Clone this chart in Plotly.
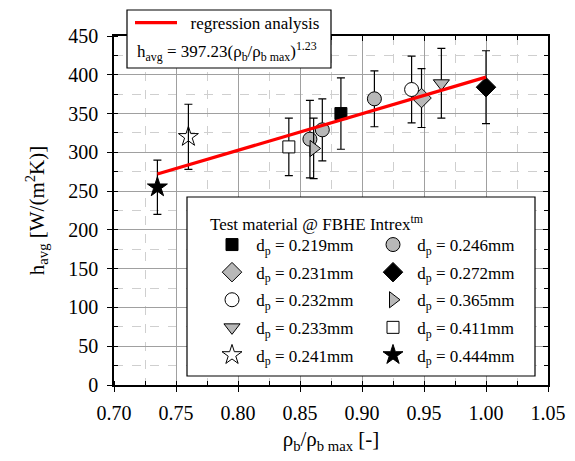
import plotly.graph_objects as go

# ---------------- data ----------------
labels = ["0.219", "0.231", "0.232", "0.233", "0.241",
          "0.246", "0.272", "0.365", "0.411", "0.444"]
xs = [[0.883], [0.948], [0.940], [0.964], [0.760],
      [0.858, 0.868, 0.910], [1.000], [0.861], [0.841], [0.735]]
ys = [[350], [370], [381], [389], [320],
      [317, 329, 369], [384], [305], [307], [255]]
errs = [[46], [38], [43], [45], [42],
        [50, 40, 36], [47], [39], [37], [35]]
reg_x = [0.735, 1.000]
reg_y = [272, 397]
x_ticks = [0.70, 0.75, 0.80, 0.85, 0.90, 0.95, 1.00, 1.05]
y_ticks = [0, 50, 100, 150, 200, 250, 300, 350, 400, 450]

# ---------------- styles ----------------
GRAY = "#b8b8b8"
symbols = ["square", "diamond", "circle", "triangle-down", "star-open",
           "circle", "diamond", "triangle-right", "square", "star"]
fills = ["black", GRAY, "white", GRAY, "black",
         GRAY, "black", GRAY, "white", "black"]
sizes = [12, 15, 14, 14, 15, 14, 15, 14, 12, 15]
FONT = "Liberation Serif, Times New Roman, serif"
NB = "\u00a0"

# page body has an 8px margin; figure is sized to fit the 575x461 window
OFF = 8
W, H = 567, 453
L, R, T, B = 106, 27, 28, 76
PW, PH = W - L - R, H - T - B


def px(xw):
    return (xw - OFF - L) / PW


def py(yw):
    return (H - B - (yw - OFF)) / PH


fig = go.Figure()

for i, lab in enumerate(labels):
    fig.add_trace(go.Scatter(
        x=xs[i], y=ys[i], mode="markers",
        name=f"{NB}d<sub>p</sub> = {lab}mm",
        legend="legend2" if i < 5 else "legend3",
        legendgroup=f"g{i}",
        marker=dict(symbol=symbols[i], color=fills[i], size=sizes[i],
                    line=dict(color="black", width=1)),
        error_y=dict(type="data", array=errs[i], visible=True,
                     color="black", thickness=1.2, width=4),
    ))

fig.add_trace(go.Scatter(
    x=reg_x, y=reg_y, mode="lines", name=f"{NB}{NB}regression analysis",
    line=dict(color="red", width=3.2), legend="legend", showlegend=True,
))

# empty helper trace for mirrored inside-tick axes
fig.add_trace(go.Scatter(x=[], y=[], xaxis="x2", yaxis="y2", showlegend=False,
                         hoverinfo="skip"))

axis_common = dict(showline=True, linecolor="black", linewidth=1.5,
                   tickfont=dict(family=FONT, size=20, color="black"),
                   zeroline=False)

fig.update_layout(
    width=W, height=H,
    margin=dict(l=L, r=R, t=T, b=B, autoexpand=False),
    paper_bgcolor="white", plot_bgcolor="white",
    font=dict(family=FONT, color="black"),
    showlegend=True,
    xaxis=dict(range=[0.70, 1.05], tickvals=x_ticks, tickformat=".2f",
               ticks="outside", ticklen=5, tickcolor="black", mirror=True,
               ticklabelstandoff=4,
               showgrid=True, gridcolor="#a0a0a0", gridwidth=1,
               minor=dict(dtick=0.025, ticks="inside", ticklen=4,
                          tickcolor="black", showgrid=True,
                          gridcolor="#cfcfcf", griddash="dash"),
               title=dict(text="ρ<sub>b</sub>/ρ<sub>b max</sub> [-]",
                          font=dict(family=FONT, size=21), standoff=9),
               **axis_common),
    yaxis=dict(range=[0, 450], tickvals=y_ticks,
               ticks="outside", ticklen=5, tickcolor="black", mirror=True,
               ticklabelstandoff=5,
               showgrid=True, gridcolor="#a0a0a0", gridwidth=1,
               minor=dict(dtick=25, ticks="inside", ticklen=4,
                          tickcolor="black", showgrid=True,
                          gridcolor="#cfcfcf", griddash="dash"),
               title=dict(text="h<sub>avg</sub> [W/(m<sup>2</sup>K)]",
                          font=dict(family=FONT, size=21), standoff=18),
               **axis_common),
    xaxis2=dict(range=[0.70, 1.05], overlaying="x", side="top",
                tickvals=x_ticks, ticks="inside", ticklen=5,
                tickcolor="black", showticklabels=False, showgrid=False,
                zeroline=False,
                minor=dict(dtick=0.025, ticks="inside", ticklen=4,
                           tickcolor="black", showgrid=False)),
    yaxis2=dict(range=[0, 450], overlaying="y", side="right",
                tickvals=y_ticks, ticks="inside", ticklen=5,
                tickcolor="black", showticklabels=False, showgrid=False,
                zeroline=False,
                minor=dict(dtick=25, ticks="inside", ticklen=4,
                           tickcolor="black", showgrid=False)),
    legend=dict(x=px(130), y=py(5), xanchor="left", yanchor="top",
                bgcolor="rgba(0,0,0,0)", borderwidth=0, itemwidth=42,
                font=dict(family=FONT, size=17)),
    legend2=dict(x=px(212), y=py(227), xanchor="left", yanchor="top",
                 bgcolor="rgba(0,0,0,0)", borderwidth=0,
                 traceorder="grouped", tracegroupgap=2.5,
                 font=dict(family=FONT, size=17)),
    legend3=dict(x=px(373), y=py(227), xanchor="left", yanchor="top",
                 bgcolor="rgba(0,0,0,0)", borderwidth=0,
                 traceorder="grouped", tracegroupgap=2.5,
                 font=dict(family=FONT, size=17)),
    shapes=[
        dict(type="rect", xref="paper", yref="paper",
             x0=px(127), x1=px(331), y0=py(68), y1=py(10),
             fillcolor="white", line=dict(color="black", width=1.2),
             layer="above"),
        dict(type="rect", xref="paper", yref="paper",
             x0=px(187), x1=px(535), y0=py(376), y1=py(197),
             fillcolor="white", line=dict(color="black", width=1.2),
             layer="above"),
    ],
    annotations=[
        dict(xref="paper", yref="paper", x=px(135), y=py(51),
             xanchor="left", yanchor="middle", showarrow=False,
             text="h<sub>avg</sub> = 397.23(ρ<sub>b</sub>/ρ<sub>b max</sub>)<sup>1.23</sup>",
             font=dict(family=FONT, size=17)),
        dict(xref="paper", yref="paper", x=px(208), y=py(223),
             xanchor="left", yanchor="middle", showarrow=False,
             text="Test material @ FBHE Intrex<sup>tm</sup>",
             font=dict(family=FONT, size=17)),
    ],
)

fig.write_html("out.html")
